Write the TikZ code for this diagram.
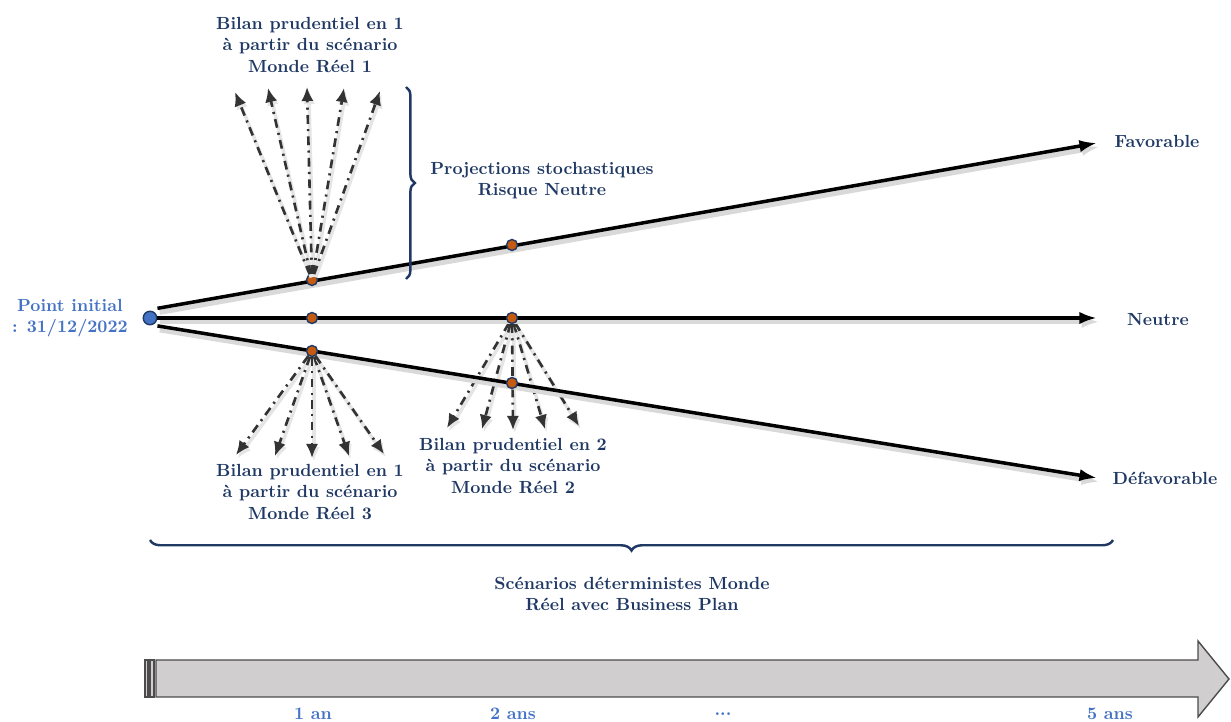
\documentclass[tikz,border=0pt]{standalone}
\usepackage{xcolor}
\usepackage{tikz}
\usetikzlibrary{arrows.meta,decorations.pathreplacing,positioning,backgrounds}
\definecolor{bpnavy}{HTML}{1F3864}
\definecolor{bpblue}{HTML}{4472C4}
\definecolor{bporange}{HTML}{C55A11}
\definecolor{bpgray}{HTML}{D0CECE}

\begin{document}
\begin{tikzpicture}[x=0.02cm,y=-0.02cm,
  lbl/.style={font=\bfseries,text=bpnavy,align=center,inner sep=0pt},
  tlbl/.style={font=\bfseries,text=bpblue,align=center,inner sep=0pt},
  dot/.style={circle,fill=bporange,draw=bpnavy,line width=0.8pt,minimum size=0.22cm,inner sep=0pt},
  scen/.style={line width=2pt,-{Latex[length=10pt,width=7pt]},
    preaction={draw=black!15,line width=3pt,transform canvas={shift={(1.3pt,-2.2pt)}}}},
  fan/.style={line width=1.5pt,draw=black!80,dash pattern=on 5pt off 3pt on 1.2pt off 3pt,
    -{Latex[length=8pt,width=7pt]},
    preaction={draw=black!10,line width=2pt,transform canvas={shift={(1pt,-1.8pt)}}}},
  accol/.style={draw=bpnavy,line width=1.4pt,decorate}]
  \useasboundingbox (0,0) rectangle (1231,722);

  % scenarios deterministes
  \node[circle,fill=bpblue,draw=bpnavy,line width=0.8pt,minimum size=0.27cm,inner sep=0pt] (o) at (150,318) {};
  \node[tlbl] (init) at (70,318) {Point initial\\: 31/12/2022};
  \coordinate (fav) at (1097,143);
  \coordinate (neu) at (1097,318);
  \coordinate (def) at (1097,478);
  \draw[scen] ([yshift=5.5pt]o.east) -- (fav);
  \draw[scen] (o.east) -- (neu);
  \draw[scen] ([yshift=-4.5pt]o.east) -- (def);
  \node[lbl] (lfav) at (1157,141) {Favorable};
  \node[lbl] (lneu) at (1158,320) {Neutre};
  \node[lbl] (ldef) at (1165,478) {D\'efavorable};

  % points de calcul
  \node[dot] (f1) at (312,280) {};
  \node[dot] (f2) at (512,245) {};
  \node[dot] (n1) at (312,318) {};
  \node[dot] (n2) at (512,318) {};
  \node[dot] (d1) at (312,351) {};
  \node[dot] (d2) at (512,383) {};

  % projections monde reel 1
  \foreach \i/\x/\y in {1/235/92,2/268/88,3/307/87,4/344/88,5/380/91}
    \coordinate (u\i) at (\x,\y);
  \foreach \i in {1,...,5}
    \draw[fan] (f1) -- (u\i);
  \node[lbl] (bil1) at (310,45) {Bilan prudentiel en 1\\\`a partir du sc\'enario\\Monde R\'eel 1};

  % projections monde reel 3
  \foreach \i/\x/\y in {1/236/455,2/275/456,3/312/458,4/349/456,5/384/454}
    \coordinate (v\i) at (\x,\y);
  \foreach \i in {1,...,5}
    \draw[fan] (d1) -- (v\i);
  \node[lbl] (bil3) at (310,492) {Bilan prudentiel en 1\\\`a partir du sc\'enario\\Monde R\'eel 3};

  % projections monde reel 2
  \foreach \i/\x/\y in {1/447/428,2/482/429,3/513/430,4/545/429,5/579/426}
    \coordinate (w\i) at (\x,\y);
  \begin{scope}[on background layer]
    \foreach \i in {1,...,5}
      \draw[fan] (n2) -- (w\i);
  \end{scope}
  \node[lbl] (bil2) at (513,466) {Bilan prudentiel en 2\\\`a partir du sc\'enario\\Monde R\'eel 2};

  % accolades
  \coordinate (a1) at (406,87);
  \coordinate (a2) at (406,279);
  \draw[accol,decoration={brace,amplitude=5pt,aspect=0.5}] (a1) -- (a2);
  \node[lbl] (proj) at (542,181) {Projections stochastiques\\Risque Neutre};
  \coordinate (b1) at (150,540);
  \coordinate (b2) at (1113,540);
  \draw[accol,decoration={brace,mirror,amplitude=6pt}] (b1) -- (b2);
  \node[lbl] (det) at (632,594) {Sc\'enarios d\'eterministes Monde\\R\'eel avec Business Plan};

  % frise du temps
  \fill[bpgray,draw=black!70,line width=0.8pt] (145,660) rectangle (148,697);
  \fill[bpgray,draw=black!70,line width=0.8pt] (150,660) rectangle (154,697);
  \draw[fill=bpgray,draw=black!70,line width=0.8pt]
    (156,660) -- (1198,660) -- (1198,641) -- (1229,679) -- (1198,717) -- (1198,697) -- (156,697) -- cycle;
  \node[tlbl] (t1) at (313,714) {1 an};
  \node[tlbl] (t2) at (513,714) {2 ans};
  \node[tlbl] (t3) at (723,714) {...};
  \node[tlbl] (t5) at (1110,714) {5 ans};
\end{tikzpicture}
\end{document}
